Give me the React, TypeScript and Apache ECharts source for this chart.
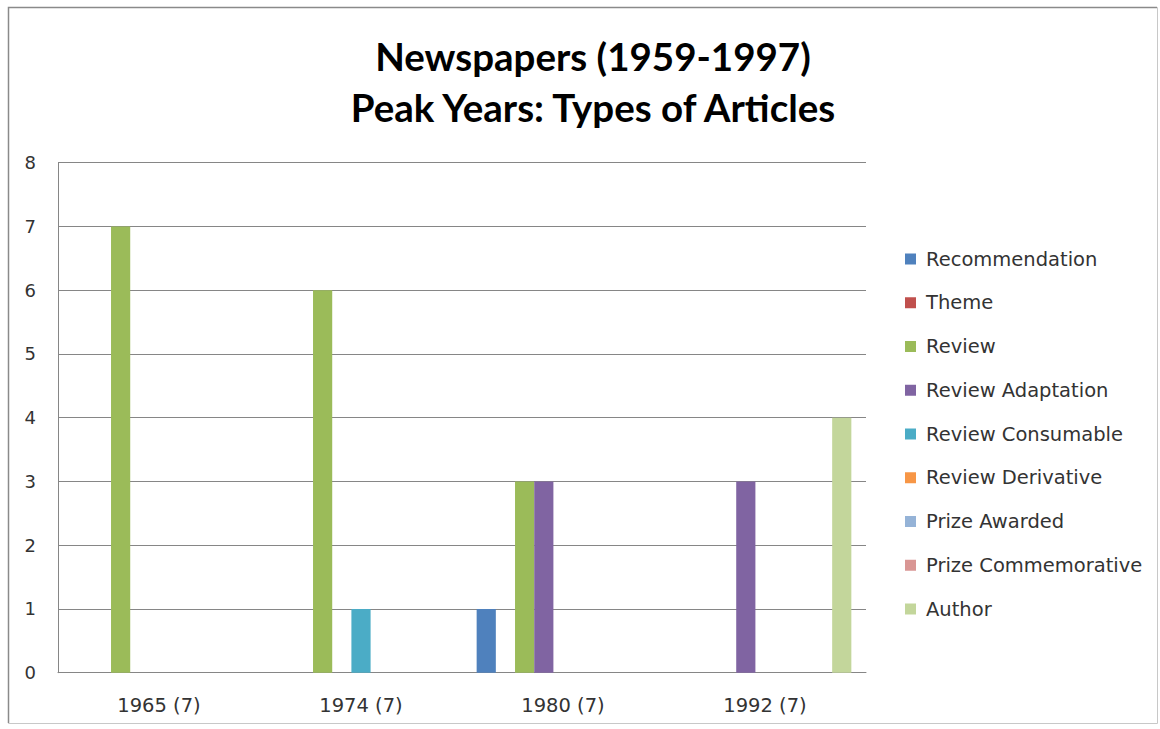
import React, { useEffect, useRef } from "react";
import * as echarts from "echarts";

const categories = ["1965 (7)", "1974 (7)", "1980 (7)", "1992 (7)"];
const seriesNames = [
  "Recommendation",
  "Theme",
  "Review",
  "Review Adaptation",
  "Review Consumable",
  "Review Derivative",
  "Prize Awarded",
  "Prize Commemorative",
  "Author",
];
const recommendation = [0, 0, 1, 0];
const theme = [0, 0, 0, 0];
const review = [7, 6, 3, 0];
const reviewAdaptation = [0, 0, 3, 3];
const reviewConsumable = [0, 1, 0, 0];
const reviewDerivative = [0, 0, 0, 0];
const prizeAwarded = [0, 0, 0, 0];
const prizeCommemorative = [0, 0, 0, 0];
const author = [0, 0, 0, 4];
const yTicks = [0, 1, 2, 3, 4, 5, 6, 7, 8];

const seriesData = [
  recommendation,
  theme,
  review,
  reviewAdaptation,
  reviewConsumable,
  reviewDerivative,
  prizeAwarded,
  prizeCommemorative,
  author,
];
const colors = [
  "#4F81BD",
  "#C0504D",
  "#9BBB59",
  "#8064A2",
  "#4BACC6",
  "#F79646",
  "#95B3D7",
  "#D99694",
  "#C3D69B",
];

const FONT = "DejaVu Sans";

export default function App() {
  const ref = useRef<HTMLDivElement>(null);
  useEffect(() => {
    if (!ref.current) return;
    const chart = echarts.init(ref.current, null, { renderer: "svg" });
    chart.setOption({
      animation: false,
      backgroundColor: "#ffffff",
      color: colors,
      title: {
        text: "Newspapers (1959-1997)\nPeak Years: Types of Articles",
        left: 588,
        top: 25,
        textAlign: "center",
        textStyle: {
          fontFamily: "Lato",
          fontWeight: "bold",
          fontSize: 38.5,
          lineHeight: 51,
          color: "#000000",
        },
      },
      graphic: [
        {
          type: "rect",
          shape: { x: 8.5, y: 7.5, width: 1149, height: 716 },
          style: { fill: "none", stroke: "#c8c8c8", lineWidth: 1 },
          silent: true,
        },
        {
          type: "polyline",
          shape: { points: [[8.5, 723], [8.5, 7.5], [1157, 7.5]] },
          style: { fill: "none", stroke: "#8a8a8a", lineWidth: 1.5 },
          silent: true,
        },
      ],
      legend: {
        orient: "vertical",
        left: 900,
        top: 244,
        icon: "rect",
        itemWidth: 11,
        itemHeight: 11,
        itemGap: 23.75,
        data: seriesNames,
        textStyle: {
          fontFamily: FONT,
          fontSize: 19.5,
          lineHeight: 20,
          color: "#333333",
          padding: [0, 0, 0, 5],
        },
      },
      grid: {
        left: 58,
        right: 294,
        top: 162.7,
        bottom: 56.3,
        containLabel: false,
      },
      xAxis: {
        type: "category",
        data: categories,
        axisLine: { show: true, lineStyle: { color: "#868686", width: 1 } },
        axisTick: { show: false },
        axisLabel: {
          fontFamily: FONT,
          fontSize: 19.5,
          color: "#333333",
          margin: 23,
        },
      },
      yAxis: {
        type: "value",
        min: yTicks[0],
        max: yTicks[yTicks.length - 1],
        interval: 1,
        axisLine: { show: true, lineStyle: { color: "#868686", width: 1 } },
        axisTick: { show: false },
        splitLine: { show: true, lineStyle: { color: "#868686", width: 1 } },
        axisLabel: {
          fontFamily: FONT,
          fontSize: 18,
          color: "#333333",
          margin: 22,
        },
      },
      series: seriesNames.map((name, i) => ({
        name,
        type: "bar",
        data: seriesData[i],
        barGap: "0%",
        barCategoryGap: "14.5%",
        itemStyle: { color: colors[i] },
      })),
    });
    return () => chart.dispose();
  }, []);
  return (
    <div
      ref={ref}
      style={{ position: "absolute", left: 0, top: 0, width: 1160, height: 729 }}
    />
  );
}
